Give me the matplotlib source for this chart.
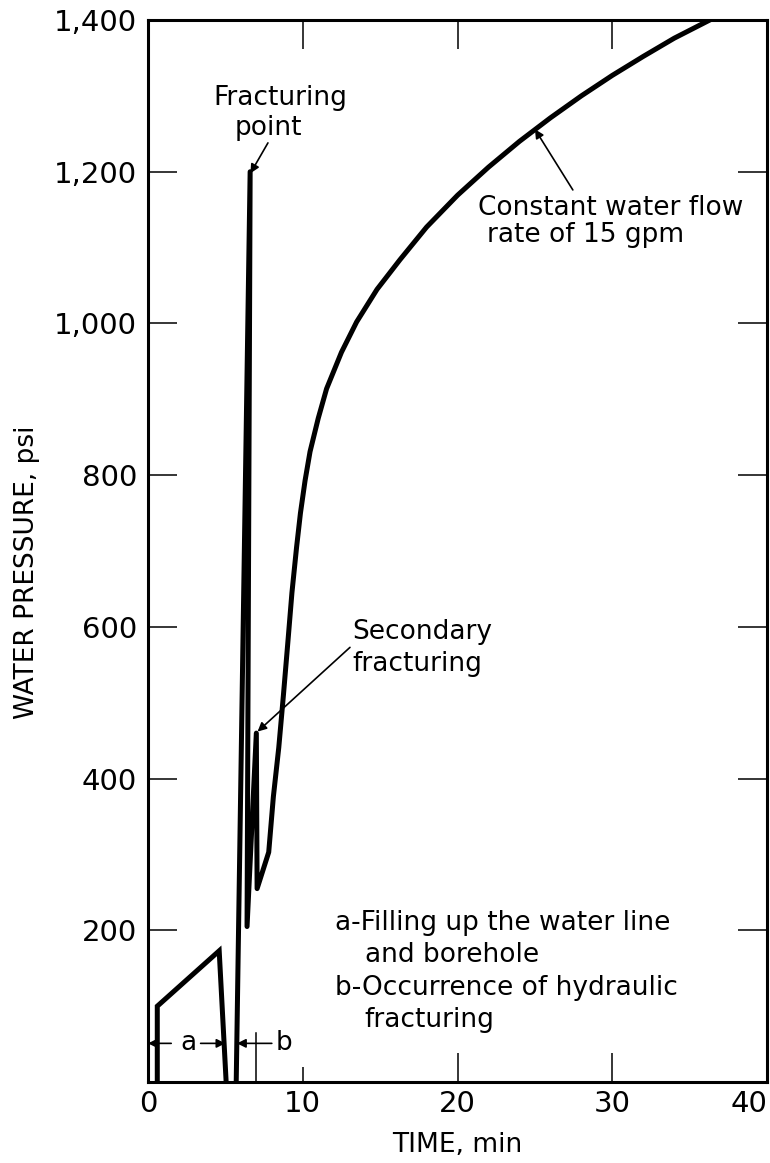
import matplotlib
matplotlib.use('Agg')
import matplotlib.pyplot as plt
from matplotlib.transforms import ScaledTranslation

plt.rcParams['font.family'] = ['DejaVu Sans']

# filling stage (a)
fill_time = [0.6, 0.6, 4.6, 5.05]
fill_psi = [0, 100, 173, 0]

# fracturing stage and constant flow afterwards
main_time = [5.7, 6.6, 6.4, 7.0, 7.05, 7.8, 8.1, 8.45, 8.75, 9.05, 9.3,
             9.6, 9.85, 10.15, 10.47, 11.0, 11.54, 12.5, 13.48, 14.8, 16.28,
             18.0, 20.0, 22.0, 24.0, 26.0, 28.0, 30.0, 32.0, 34.0, 36.3]
main_psi = [0, 1200, 205, 460, 255, 303, 376, 441, 510, 583, 645,
            705, 750, 793, 831, 875, 914, 962, 1002, 1045, 1084,
            1127, 1169, 1206, 1240, 1271, 1300, 1327, 1352, 1376, 1400]

x_ticks = [0, 10, 20, 30, 40]
y_ticks = [200, 400, 600, 800, 1000, 1200, 1400]
y_labels = ['200', '400', '600', '800', '1,000', '1,200', '1,400']

fig = plt.figure(figsize=(7.7, 11.63), dpi=100)
ax = fig.add_axes([0.1922, 0.0696, 0.804, 0.9132])

ax.plot(fill_time, fill_psi, color='black', lw=3.6, solid_joinstyle='miter')
ax.plot(main_time, main_psi, color='black', lw=3.6, solid_joinstyle='round')

ax.set_xlim(0, 40)
ax.set_ylim(0, 1400)
ax.set_xticks(x_ticks)
ax.set_yticks(y_ticks)
ax.set_yticklabels(y_labels)

for s in ax.spines.values():
    s.set_linewidth(2.2)

ax.tick_params(axis='both', direction='in', length=21, width=1.1,
               labelsize=21, top=True, right=True)
ax.tick_params(axis='x', pad=6)
ax.tick_params(axis='y', pad=8)
# shorter tick at 10 on the bottom axis
ax.xaxis.get_major_ticks()[1].tick1line.set_markersize(11)

# keep the "40" inside the figure
last = ax.get_xticklabels()[-1]
last.set_transform(last.get_transform() +
                   ScaledTranslation(-0.18, 0, fig.dpi_scale_trans))

ax.set_xlabel('TIME, min', fontsize=19, labelpad=10)
ax.set_ylabel('WATER PRESSURE, psi', fontsize=19)
ax.yaxis.set_label_coords(-0.175, 0.48)

fs = 19
arrow = dict(arrowstyle='-|>', color='black', lw=1.2, mutation_scale=13,
             shrinkA=0, shrinkB=0)

# fracturing point
ax.text(4.2, 1288, 'Fracturing', fontsize=fs, ha='left', va='baseline')
ax.text(7.75, 1248, 'point', fontsize=fs, ha='center', va='baseline')
ax.annotate('', xy=(6.62, 1198), xytext=(7.75, 1238), arrowprops=arrow)

# secondary fracturing
ax.text(13.2, 593, 'Secondary', fontsize=fs, ha='left', va='center')
ax.text(13.2, 551, 'fracturing', fontsize=fs, ha='left', va='center')
ax.annotate('', xy=(7.08, 462), xytext=(13.05, 573), arrowprops=arrow)

# constant flow
ax.text(21.3, 1143, 'Constant water flow', fontsize=fs, ha='left',
        va='baseline')
ax.text(21.9, 1107, 'rate of 15 gpm', fontsize=fs, ha='left', va='baseline')
ax.annotate('', xy=(25.0, 1256), xytext=(27.45, 1176), arrowprops=arrow)

# notes for the a and b spans
ax.text(12.1, 210, 'a-Filling up the water line', fontsize=fs, va='center')
ax.text(14.0, 167, 'and borehole', fontsize=fs, va='center')
ax.text(12.1, 124, 'b-Occurrence of hydraulic', fontsize=fs, va='center')
ax.text(14.0, 82, 'fracturing', fontsize=fs, va='center')

# span markers along the time axis
ax.annotate('', xy=(0.0, 51), xytext=(1.5, 51), arrowprops=arrow)
ax.annotate('', xy=(5.0, 51), xytext=(3.4, 51), arrowprops=arrow)
ax.text(2.6, 51, 'a', fontsize=fs, ha='center', va='center')
ax.annotate('', xy=(5.75, 51), xytext=(8.0, 51), arrowprops=arrow)
ax.plot([7.0, 7.0], [0, 65], color='black', lw=1.1)
ax.text(8.8, 51, 'b', fontsize=fs, ha='center', va='center')

fig.savefig('out.png', dpi=100)
